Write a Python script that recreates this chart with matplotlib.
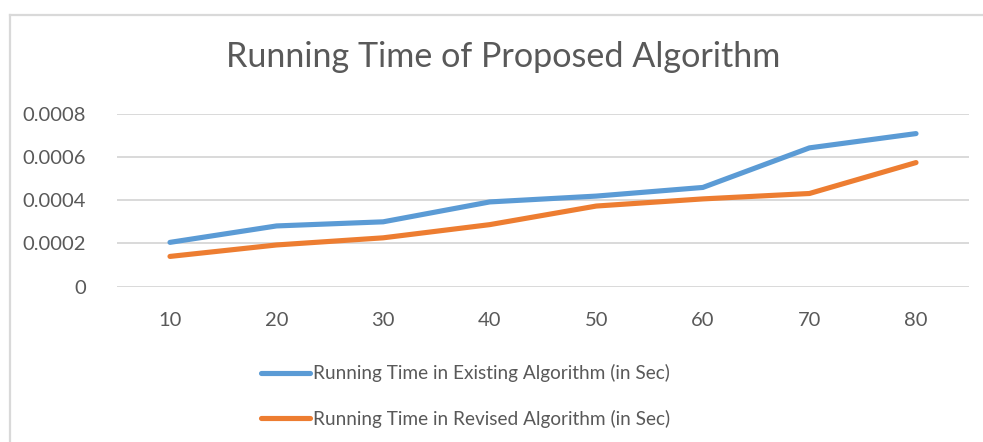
import matplotlib
matplotlib.use("Agg")
import matplotlib.pyplot as plt
from matplotlib.lines import Line2D

categories = ["10", "20", "30", "40", "50", "60", "70", "80"]
existing = [0.000205, 0.000281, 0.000300, 0.000392, 0.000419, 0.000459, 0.000642, 0.000708]
revised = [0.000140, 0.000193, 0.000226, 0.000287, 0.000373, 0.000406, 0.000431, 0.000574]
series_names = ["Running Time in Existing Algorithm (in Sec)",
                "Running Time in Revised Algorithm (in Sec)"]
yticks = [0, 0.0002, 0.0004, 0.0006, 0.0008]
ytick_labels = ["0", "0.0002", "0.0004", "0.0006", "0.0008"]
title = "Running Time of Proposed Algorithm"

plt.rcParams['font.family'] = ['Lato', 'DejaVu Sans']
W, H = 983, 442
fig = plt.figure(figsize=(W / 100, H / 100), dpi=100)
fig.patch.set_facecolor("white")

left = 116.7 / W
right = 969.3 / W
bottom = 1 - 286.7 / H
top = 1 - 113.7 / H
ax = fig.add_axes([left, bottom, right - left, top - bottom])

x = list(range(len(categories)))
blue = "#5B9BD5"
orange = "#ED7D31"
ax.plot(x, existing, color=blue, lw=3.7, solid_capstyle="round", solid_joinstyle="round", zorder=3)
ax.plot(x, revised, color=orange, lw=3.7, solid_capstyle="round", solid_joinstyle="round", zorder=3)

ax.set_xlim(-0.5, len(categories) - 0.5)
ax.set_ylim(0, 0.0008)
ax.set_yticks(yticks)
ax.set_yticklabels(ytick_labels)
ax.set_xticks(x)
ax.set_xticklabels(categories)
for s in ax.spines.values():
    s.set_visible(False)
ax.grid(axis="y", color="#D9D9D9", lw=1.4, zorder=0)
ax.tick_params(axis="both", length=0, labelsize=14.5, colors="#595959")
ax.tick_params(axis="y", pad=22)
ax.tick_params(axis="x", pad=18)
ax.set_axisbelow(True)
ax.patch.set_alpha(0)

fig.text(503 / W, 1 - 57 / H, title, ha="center", va="center", fontsize=24.6, color="#595959")

handles = [Line2D([], [], color=blue, lw=3.7, solid_capstyle="round"),
           Line2D([], [], color=orange, lw=3.7, solid_capstyle="round")]
leg = fig.legend(handles, series_names, loc="center left",
                 bbox_to_anchor=(251 / W, 1 - 396 / H), frameon=False,
                 fontsize=13.7, labelcolor="#595959", handlelength=2.6,
                 handletextpad=0.15, labelspacing=1.45, borderpad=0)

# chart border (partially visible)
fig.add_artist(Line2D([9.5 / W, 9.5 / W], [0, 1 - 15 / H], transform=fig.transFigure,
                      color="#D9D9D9", lw=1.6))
fig.add_artist(Line2D([9.5 / W, 983 / W], [1 - 15 / H, 1 - 15 / H], transform=fig.transFigure,
                      color="#D9D9D9", lw=1.6))

fig.savefig("out.png", dpi=100, facecolor="white")
